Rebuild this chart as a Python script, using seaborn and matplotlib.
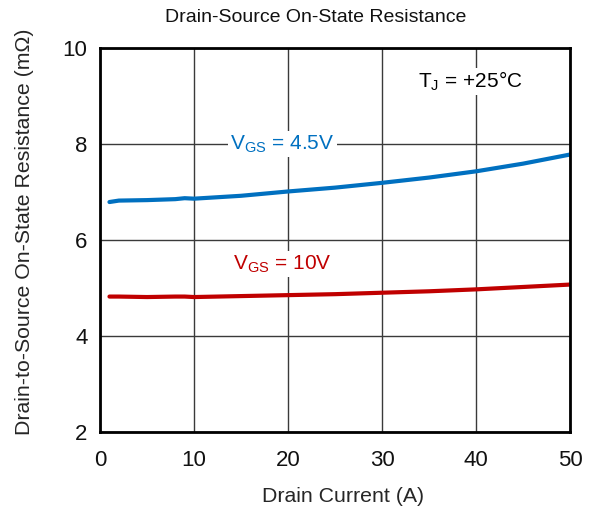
import matplotlib
matplotlib.use("Agg")
import matplotlib.pyplot as plt
import seaborn as sns
import pandas as pd

current = [1, 2, 5, 8, 9, 10, 15, 20, 25, 30, 35, 40, 45, 50]
r_45v = [6.79, 6.82, 6.83, 6.85, 6.87, 6.86, 6.92, 7.01, 7.09, 7.19, 7.30, 7.43, 7.59, 7.78]
r_10v = [4.82, 4.82, 4.81, 4.82, 4.82, 4.81, 4.83, 4.85, 4.87, 4.90, 4.93, 4.97, 5.02, 5.07]
x_ticks = [0, 10, 20, 30, 40, 50]
y_ticks = [2, 4, 6, 8, 10]

sns.set_theme(style="white")
plt.rcParams['font.family'] = ['Liberation Sans', 'DejaVu Sans']
plt.rcParams['mathtext.fontset'] = 'custom'
plt.rcParams['mathtext.rm'] = 'Liberation Sans'
plt.rcParams['mathtext.it'] = 'Liberation Sans:italic'

df = pd.DataFrame({
    "I": current * 2,
    "R": r_45v + r_10v,
    "VGS": ["4.5V"] * len(current) + ["10V"] * len(current),
})

fig = plt.figure(figsize=(5.92, 5.16), dpi=100)
ax = fig.add_axes([0.169, 0.163, 0.794, 0.744])
sns.lineplot(data=df, x="I", y="R", hue="VGS",
             palette={"4.5V": "#0070C0", "10V": "#C00000"},
             linewidth=3.0, legend=False, ax=ax)

ax.set_xlim(0, 50)
ax.set_ylim(2, 10)
ax.set_xticks(x_ticks)
ax.set_yticks(y_ticks)
ax.grid(True, color="#3a3a3a", linewidth=1.0)
for s in ax.spines.values():
    s.set_color("black")
    s.set_linewidth(2)
ax.tick_params(axis="x", labelsize=16, length=0, pad=13, colors="#111111")
ax.tick_params(axis="y", labelsize=16, length=0, pad=9, colors="#111111")
ax.set_xlabel("Drain Current (A)", fontsize=15.3)
ax.set_ylabel("Drain-to-Source On-State Resistance (m\u03a9)", fontsize=15.3)
ax.xaxis.set_label_coords((343 - 100) / 470, -(497 - 432) / 384, transform=ax.transAxes)
ax.xaxis.label.set_va("center")
ax.yaxis.set_label_coords(-(100 - 24) / 470, (432 - 232) / 384, transform=ax.transAxes)
ax.yaxis.label.set_va("center")
fig.text(316 / 592, 1 - 17 / 516, "Drain-Source On-State Resistance", fontsize=14,
         ha="center", va="center", color="#111111")

bbox = dict(facecolor="white", edgecolor="none", pad=1.5)
ax.text(19.4, 8.0, r"V$_{\mathrm{GS}}$ = 4.5V", color="#0070C0", fontsize=15,
        ha="center", va="center", bbox=bbox)
ax.text(19.4, 5.5, r"V$_{\mathrm{GS}}$ = 10V", color="#C00000", fontsize=15,
        ha="center", va="center", bbox=bbox)
ax.text(39.4, 9.3, r"T$_{\mathrm{J}}$ = +25" + "\u00b0C", color="black", fontsize=15,
        ha="center", va="center", bbox=bbox)

fig.savefig("out.png", dpi=100)
